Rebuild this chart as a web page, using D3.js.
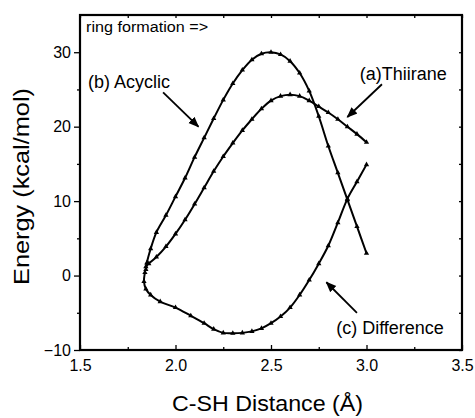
<!DOCTYPE html>
<html>
<head>
<meta charset="utf-8">
<script src="https://cdn.jsdelivr.net/npm/d3@7"></script>
<style>
  body { margin: 0; background: #fff; }
  svg text { font-family: "Liberation Sans", Arial, Helvetica, sans-serif; fill: #000; }
</style>
</head>
<body>
<div id="chart-area"></div>
<script>
// Data: C-SH distance (Å) vs energy (kcal/mol)
const thiiraneX = [1.845, 1.86, 1.9, 1.95, 2.0, 2.05, 2.1, 2.15, 2.2, 2.25, 2.3, 2.35, 2.4, 2.45, 2.5, 2.55, 2.6, 2.65, 2.7, 2.75, 2.8, 2.85, 2.9, 2.95, 3.0]
const thiiraneY = [1.2, 1.6, 2.5, 3.9, 5.6, 7.5, 9.6, 11.8, 14.0, 16.0, 17.8, 19.5, 21.0, 22.4, 23.5, 24.1, 24.3, 24.1, 23.5, 22.7, 21.9, 21.0, 20.0, 19.0, 17.9]

const acyclicX = [1.845, 1.85, 1.87, 1.9, 1.95, 2.0, 2.05, 2.1, 2.15, 2.2, 2.25, 2.3, 2.35, 2.4, 2.45, 2.5, 2.55, 2.6, 2.65, 2.7, 2.75, 2.8, 2.85, 2.9, 2.95, 3.0]
const acyclicY = [0.8, 1.7, 3.6, 5.8, 8.1, 10.6, 13.1, 15.9, 18.5, 21.1, 23.6, 25.8, 27.6, 29.0, 29.8, 30.0, 29.7, 28.8, 27.2, 24.8, 21.4, 17.4, 13.8, 10.2, 6.6, 3.0]

const diffX = [1.84, 1.835, 1.845, 1.87, 1.92, 2.0, 2.08, 2.15, 2.2, 2.25, 2.3, 2.35, 2.4, 2.45, 2.5, 2.55, 2.6, 2.65, 2.7, 2.75, 2.8, 2.85, 2.9, 2.95, 3.0]
const diffY = [0.4, -0.8, -1.8, -2.6, -3.5, -4.3, -5.4, -6.4, -7.2, -7.7, -7.75, -7.7, -7.5, -7.1, -6.4, -5.5, -4.3, -2.6, -0.6, 1.6, 4.0, 7.1, 10.3, 12.6, 14.9]

const xTicks = [1.5, 2.0, 2.5, 3.0, 3.5]
const yTicks = [-10, 0, 10, 20, 30]
const xMinor = [1.75, 2.25, 2.75, 3.25]
const yMinor = [-5, 5, 15, 25]

const series = [
    { name: "(a)Thiirane", xs: thiiraneX, ys: thiiraneY },
    { name: "(b) Acyclic", xs: acyclicX, ys: acyclicY },
    { name: "(c) Difference", xs: diffX, ys: diffY }
]

const MARGIN = { LEFT: 80, RIGHT: 13, TOP: 15, BOTTOM: 68 }
const WIDTH = 475 - MARGIN.LEFT - MARGIN.RIGHT
const HEIGHT = 418 - MARGIN.TOP - MARGIN.BOTTOM

const svg = d3.select("#chart-area").append("svg")
    .attr("width", 475)
    .attr("height", 418)

const g = svg.append("g")
    .attr("transform", `translate(${MARGIN.LEFT}, ${MARGIN.TOP})`)

// Scales
const x = d3.scaleLinear().domain([1.5, 3.5]).range([0, WIDTH])
const y = d3.scaleLinear().domain([-10, 35]).range([HEIGHT, 0])

// Axes
const xAxis = g.append("g")
    .attr("transform", `translate(0, ${HEIGHT})`)
    .call(d3.axisBottom(x).tickValues(xTicks).tickSize(-5).tickPadding(10).tickFormat(d3.format(".1f")))
xAxis.selectAll("text").attr("font-size", "16px")

g.append("g")
    .attr("transform", `translate(0, ${HEIGHT})`)
    .call(d3.axisBottom(x).tickValues(xMinor).tickSize(-3).tickFormat(""))

const yAxis = g.append("g")
    .call(d3.axisLeft(y).tickValues(yTicks).tickSize(6).tickPadding(3))
yAxis.selectAll("text").attr("font-size", "16px")

g.append("g")
    .call(d3.axisLeft(y).tickValues(yMinor).tickSize(3).tickFormat(""))

// mirrored ticks on top and right
g.append("g")
    .call(d3.axisTop(x).tickValues(xTicks.concat(xMinor)).tickSize(-3).tickFormat(""))
g.append("g")
    .attr("transform", `translate(${WIDTH}, 0)`)
    .call(d3.axisRight(y).tickValues(yTicks.concat(yMinor)).tickSize(-3).tickFormat(""))

g.selectAll(".domain").remove()
g.selectAll(".tick line").attr("stroke", "#000").attr("stroke-width", 1.3)

// frame
g.append("rect")
    .attr("width", WIDTH)
    .attr("height", HEIGHT)
    .attr("fill", "none")
    .attr("stroke", "#000")
    .attr("stroke-width", 2.2)

// Labels
g.append("text")
    .attr("x", 187.5)
    .attr("y", HEIGHT + 61)
    .attr("font-size", "22px")
    .attr("text-anchor", "middle")
    .attr("textLength", 191)
    .attr("lengthAdjust", "spacingAndGlyphs")
    .text("C-SH Distance (Å)")

g.append("text")
    .attr("transform", "rotate(-90)")
    .attr("x", -171.5)
    .attr("y", -51)
    .attr("font-size", "22px")
    .attr("text-anchor", "middle")
    .attr("textLength", 197)
    .attr("lengthAdjust", "spacingAndGlyphs")
    .text("Energy (kcal/mol)")

// Curves
const line = d3.line()
    .x(d => x(d[0]))
    .y(d => y(d[1]))
    .curve(d3.curveCatmullRom.alpha(0.5))

series.forEach(s => {
    const pts = s.xs.map((v, i) => [v, s.ys[i]])
    g.append("path")
        .datum(pts)
        .attr("fill", "none")
        .attr("stroke", "#000")
        .attr("stroke-width", 2)
        .attr("d", line)
    g.selectAll(null)
        .data(pts)
        .enter().append("path")
        .attr("transform", d => `translate(${x(d[0])}, ${y(d[1])})`)
        .attr("d", d3.symbol(d3.symbolTriangle, 12))
        .attr("fill", "#000")
})

// Annotations
svg.append("defs").append("marker")
    .attr("id", "head")
    .attr("viewBox", "0 0 10 10")
    .attr("refX", 9)
    .attr("refY", 5)
    .attr("markerWidth", 6)
    .attr("markerHeight", 6)
    .attr("markerUnits", "strokeWidth")
    .attr("orient", "auto")
    .append("path")
    .attr("d", "M0,1 L10,5 L0,9 Z")
    .attr("fill", "#000")

const notes = [
    { text: "ring formation =>", tx: 1.532, ty: 32.7, size: 14, anchor: "start", len: 122 },
    { text: "(b) Acyclic", tx: 1.542, ty: 25.2, size: 18, anchor: "start", from: [1.935, 24.6], to: [2.12, 20.0] },
    { text: "(a)Thiirane", tx: 3.42, ty: 26.3, size: 18, anchor: "end", from: [3.081, 25.7], to: [2.9, 21.3] },
    { text: "(c) Difference", tx: 3.405, ty: -7.9, size: 18, anchor: "end", from: [2.95, -5.0], to: [2.79, -0.9] }
]

notes.forEach(n => {
    const t = g.append("text")
        .attr("x", x(n.tx))
        .attr("y", y(n.ty))
        .attr("font-size", n.size + "px")
        .attr("text-anchor", n.anchor)
        .text(n.text)
    if (n.len) t.attr("textLength", n.len).attr("lengthAdjust", "spacingAndGlyphs")
    if (n.from) {
        g.append("line")
            .attr("x1", x(n.from[0]))
            .attr("y1", y(n.from[1]))
            .attr("x2", x(n.to[0]))
            .attr("y2", y(n.to[1]))
            .attr("stroke", "#000")
            .attr("stroke-width", 1.8)
            .attr("marker-end", "url(#head)")
    }
})
</script>
</body>
</html>
